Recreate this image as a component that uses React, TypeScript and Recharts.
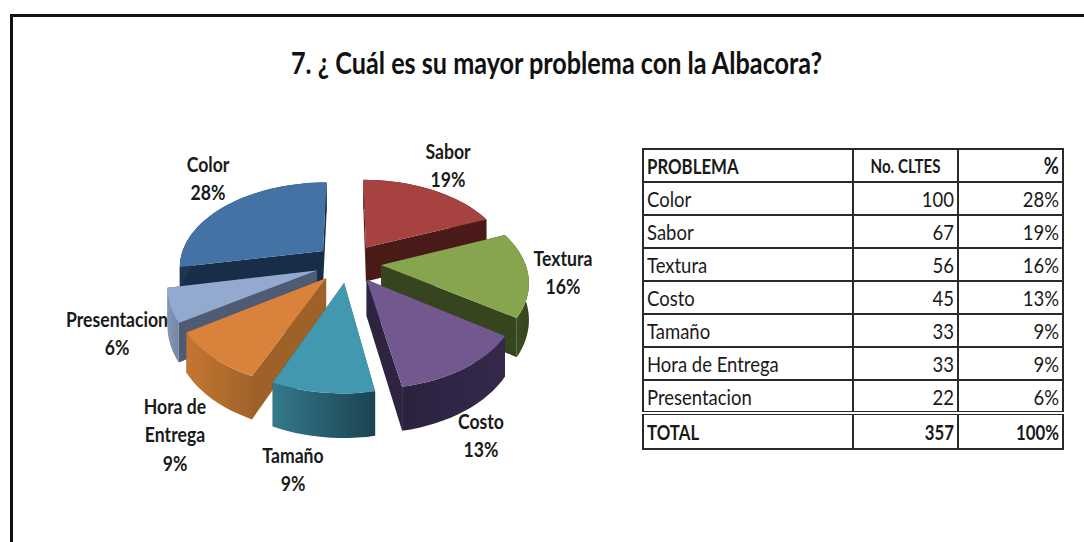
import React from 'react';
import { PieChart, Pie } from 'recharts';

const categories = ['Sabor', 'Textura', 'Costo', 'Tamaño', 'Hora de Entrega', 'Presentacion', 'Color'];
const clientes = [67, 56, 45, 33, 33, 22, 100];
const percentages = [19, 16, 13, 9, 9, 6, 28];

const tableOrder = ['Color', 'Sabor', 'Textura', 'Costo', 'Tamaño', 'Hora de Entrega', 'Presentacion'];
const totalClientes = 357;
const totalPercent = 100;

const rows = categories.map((name, i) => ({ name, value: clientes[i], pct: percentages[i] }));
const rowsReversed = [...rows].reverse();

const FRONT_LAYER = ['Color', 'Presentacion', 'Hora de Entrega', 'Tamaño'];

const SLICE_STYLE: Record<string, { top: string; cut: string; wallA: string; wallB: string }> = {
  Sabor: { top: '#A64341', cut: '#4A1A18', wallA: '#5A2220', wallB: '#4A1A18' },
  Textura: { top: '#87A44E', cut: '#36451E', wallA: '#3F5124', wallB: '#36451E' },
  Costo: { top: '#71588F', cut: '#2E2440', wallA: '#2B2240', wallB: '#34294A' },
  Tamaño: { top: '#4298AF', cut: '#1F4D5B', wallA: '#33798C', wallB: '#1B4350' },
  'Hora de Entrega': { top: '#D9823B', cut: '#9E6128', wallA: '#C47632', wallB: '#A2632A' },
  Presentacion: { top: '#93A9CF', cut: '#4E5B72', wallA: '#8497B9', wallB: '#7486A6' },
  Color: { top: '#4472A5', cut: '#182D47', wallA: '#1E3654', wallB: '#182D47' },
};

const LABEL_LAYOUT: Record<string, { x: number; lines: string[]; y: number }> = {
  Sabor: { x: 448, y: 159, lines: ['Sabor'] },
  Textura: { x: 563, y: 266, lines: ['Textura'] },
  Costo: { x: 481, y: 429, lines: ['Costo'] },
  Tamaño: { x: 293, y: 463, lines: ['Tamaño'] },
  'Hora de Entrega': { x: 175, y: 414, lines: ['Hora de', 'Entrega'] },
  Presentacion: { x: 117, y: 327, lines: ['Presentacion'] },
  Color: { x: 208, y: 172, lines: ['Color'] },
};

const FONT = "Lato, 'Noto Sans', sans-serif";
const NARROW = 0.84;

const EXPLODE = 0.23;
const PERSPECTIVE = 0.17;
const SQUASH = 84 / 144;
const DEPTH = 0.245;

function makeProjector(cx: number, cy: number, R: number, mid: number) {
  const ex = EXPLODE * Math.sin(mid);
  const ey = EXPLODE * Math.cos(mid);
  return (theta: number, r: number, down: number) => {
    const X = ex + r * Math.sin(theta);
    const Y = ey + r * Math.cos(theta);
    const s = 1 / (1 + PERSPECTIVE * Y);
    return [cx + R * X * s, cy - R * SQUASH * Y * s + R * DEPTH * down * s];
  };
}

const toPath = (pts: number[][]) =>
  pts.map((p, i) => `${i ? 'L' : 'M'}${p[0].toFixed(1)},${p[1].toFixed(1)}`).join('') + 'Z';

function Slice3D(props: any) {
  const { cx, cy, outerRadius, startAngle, endAngle, name, payload, only } = props;
  const label = name ?? payload?.name;
  if (!only.includes(label)) return <g />;
  const style = SLICE_STYLE[label];
  const a0 = ((90 - Math.max(startAngle, endAngle)) * Math.PI) / 180;
  const a1 = ((90 - Math.min(startAngle, endAngle)) * Math.PI) / 180;
  const project = makeProjector(cx, cy, outerRadius, (a0 + a1) / 2);
  const steps = Math.max(8, Math.ceil(((a1 - a0) * 180) / Math.PI / 3));
  const arc: number[][] = [];
  const arcLow: number[][] = [];
  for (let i = 0; i <= steps; i++) {
    const t = a0 + ((a1 - a0) * i) / steps;
    arc.push(project(t, 1, 0));
    arcLow.push(project(t, 1, 1));
  }
  const apex = project(0, 0, 0);
  const apexLow = project(0, 0, 1);
  const gid = `wall-${categories.indexOf(label)}`;
  return (
    <g>
      <defs>
        <linearGradient id={gid} x1="0" y1="0" x2="1" y2="0">
          <stop offset="0" stopColor={style.wallA} />
          <stop offset="1" stopColor={style.wallB} />
        </linearGradient>
      </defs>
      <path d={toPath([apex, arc[0], arcLow[0], apexLow])} fill={style.cut} />
      <path d={toPath([apex, arc[arc.length - 1], arcLow[arcLow.length - 1], apexLow])} fill={style.cut} />
      <path d={toPath([...arc, ...[...arcLow].reverse()])} fill={`url(#${gid})`} />
      <path d={toPath([apex, ...arc])} fill={style.top} />
    </g>
  );
}

function sliceLabel(props: any) {
  const label = props.name ?? props.payload?.name;
  const layout = LABEL_LAYOUT[label];
  if (!layout) return <g />;
  const pct = props.payload?.pct ?? props.pct;
  return (
    <text
      transform={`translate(${layout.x},0) scale(${NARROW},1)`}
      textAnchor="middle"
      fontFamily={FONT}
      fontWeight={700}
      fontSize={21}
      fill="#1a1a1a"
    >
      {layout.lines.map((line, i) => (
        <tspan key={i} x={0} y={layout.y + i * 28}>{line}</tspan>
      ))}
      <tspan x={0} y={layout.y + layout.lines.length * 28.5}>{pct}%</tspan>
    </text>
  );
}

const backLayer = categories.filter((c) => !FRONT_LAYER.includes(c));

const cellBase: React.CSSProperties = {
  border: '2px solid #2a2a2a',
  padding: '0 3px',
  overflow: 'hidden',
  whiteSpace: 'nowrap',
  color: '#1a1a1a',
};

function Squeezed({ children, origin }: { children: React.ReactNode; origin: string }) {
  return (
    <span style={{ display: 'block', transform: `scaleX(${NARROW})`, transformOrigin: origin }}>{children}</span>
  );
}

export default function App() {
  return (
    <div style={{ position: 'absolute', left: 0, top: 0, width: 1084, height: 542, background: '#fff', overflow: 'hidden', fontFamily: FONT }}>
      <div style={{ position: 'absolute', left: 10, top: 14, right: 0, bottom: 0, borderTop: '3px solid #111', borderLeft: '3px solid #111' }} />
      <svg width={1084} height={110} style={{ position: 'absolute', left: 0, top: 0 }}>
        <text x={291} y={74} fontFamily={FONT} fontWeight={700} fontSize={30} fill="#111" textLength={531} lengthAdjust="spacingAndGlyphs">
          7. ¿ Cuál es su mayor problema con la Albacora?
        </text>
      </svg>
      <div style={{ position: 'absolute', left: 0, top: 0 }}>
        <PieChart width={1084} height={542} margin={{ top: 0, right: 0, bottom: 0, left: 0 }}>
          <Pie
            data={rows}
            dataKey="value"
            nameKey="name"
            cx={348}
            cy={263}
            outerRadius={144}
            startAngle={90}
            endAngle={-270}
            stroke="none"
            isAnimationActive={false}
            shape={(p: any) => <Slice3D {...p} only={backLayer} />}
          />
          <Pie
            data={rowsReversed}
            dataKey="value"
            nameKey="name"
            cx={348}
            cy={263}
            outerRadius={144}
            startAngle={90}
            endAngle={450}
            stroke="none"
            isAnimationActive={false}
            labelLine={false}
            label={sliceLabel}
            shape={(p: any) => <Slice3D {...p} only={FRONT_LAYER} />}
          />
        </PieChart>
      </div>
      <table
        style={{
          position: 'absolute', left: 642, top: 148, width: 420, height: 302,
          borderCollapse: 'collapse', tableLayout: 'fixed', fontSize: 22, background: 'transparent',
        }}
      >
        <colgroup>
          <col style={{ width: 210 }} />
          <col style={{ width: 105 }} />
          <col style={{ width: 105 }} />
        </colgroup>
        <tbody>
          <tr style={{ height: 33, fontWeight: 700, fontSize: 20 }}>
            <td style={cellBase}><Squeezed origin="left">PROBLEMA</Squeezed></td>
            <td style={{ ...cellBase, textAlign: 'center', fontSize: 18 }}><Squeezed origin="center">No. CLTES</Squeezed></td>
            <td style={{ ...cellBase, textAlign: 'right', fontSize: 22 }}><Squeezed origin="right">%</Squeezed></td>
          </tr>
          {tableOrder.map((name) => {
            const r = rows.find((x) => x.name === name)!;
            return (
              <tr key={name} style={{ height: 33 }}>
                <td style={cellBase}><Squeezed origin="left">{r.name}</Squeezed></td>
                <td style={{ ...cellBase, textAlign: 'right' }}><Squeezed origin="right">{r.value}</Squeezed></td>
                <td style={{ ...cellBase, textAlign: 'right' }}><Squeezed origin="right">{r.pct}%</Squeezed></td>
              </tr>
            );
          })}
          <tr style={{ height: 36, fontWeight: 700, fontSize: 20 }}>
            <td style={{ ...cellBase, borderTop: '4px double #2a2a2a' }}><Squeezed origin="left">TOTAL</Squeezed></td>
            <td style={{ ...cellBase, borderTop: '4px double #2a2a2a', textAlign: 'right' }}><Squeezed origin="right">{totalClientes}</Squeezed></td>
            <td style={{ ...cellBase, borderTop: '4px double #2a2a2a', textAlign: 'right' }}><Squeezed origin="right">{totalPercent}%</Squeezed></td>
          </tr>
        </tbody>
      </table>
    </div>
  );
}
